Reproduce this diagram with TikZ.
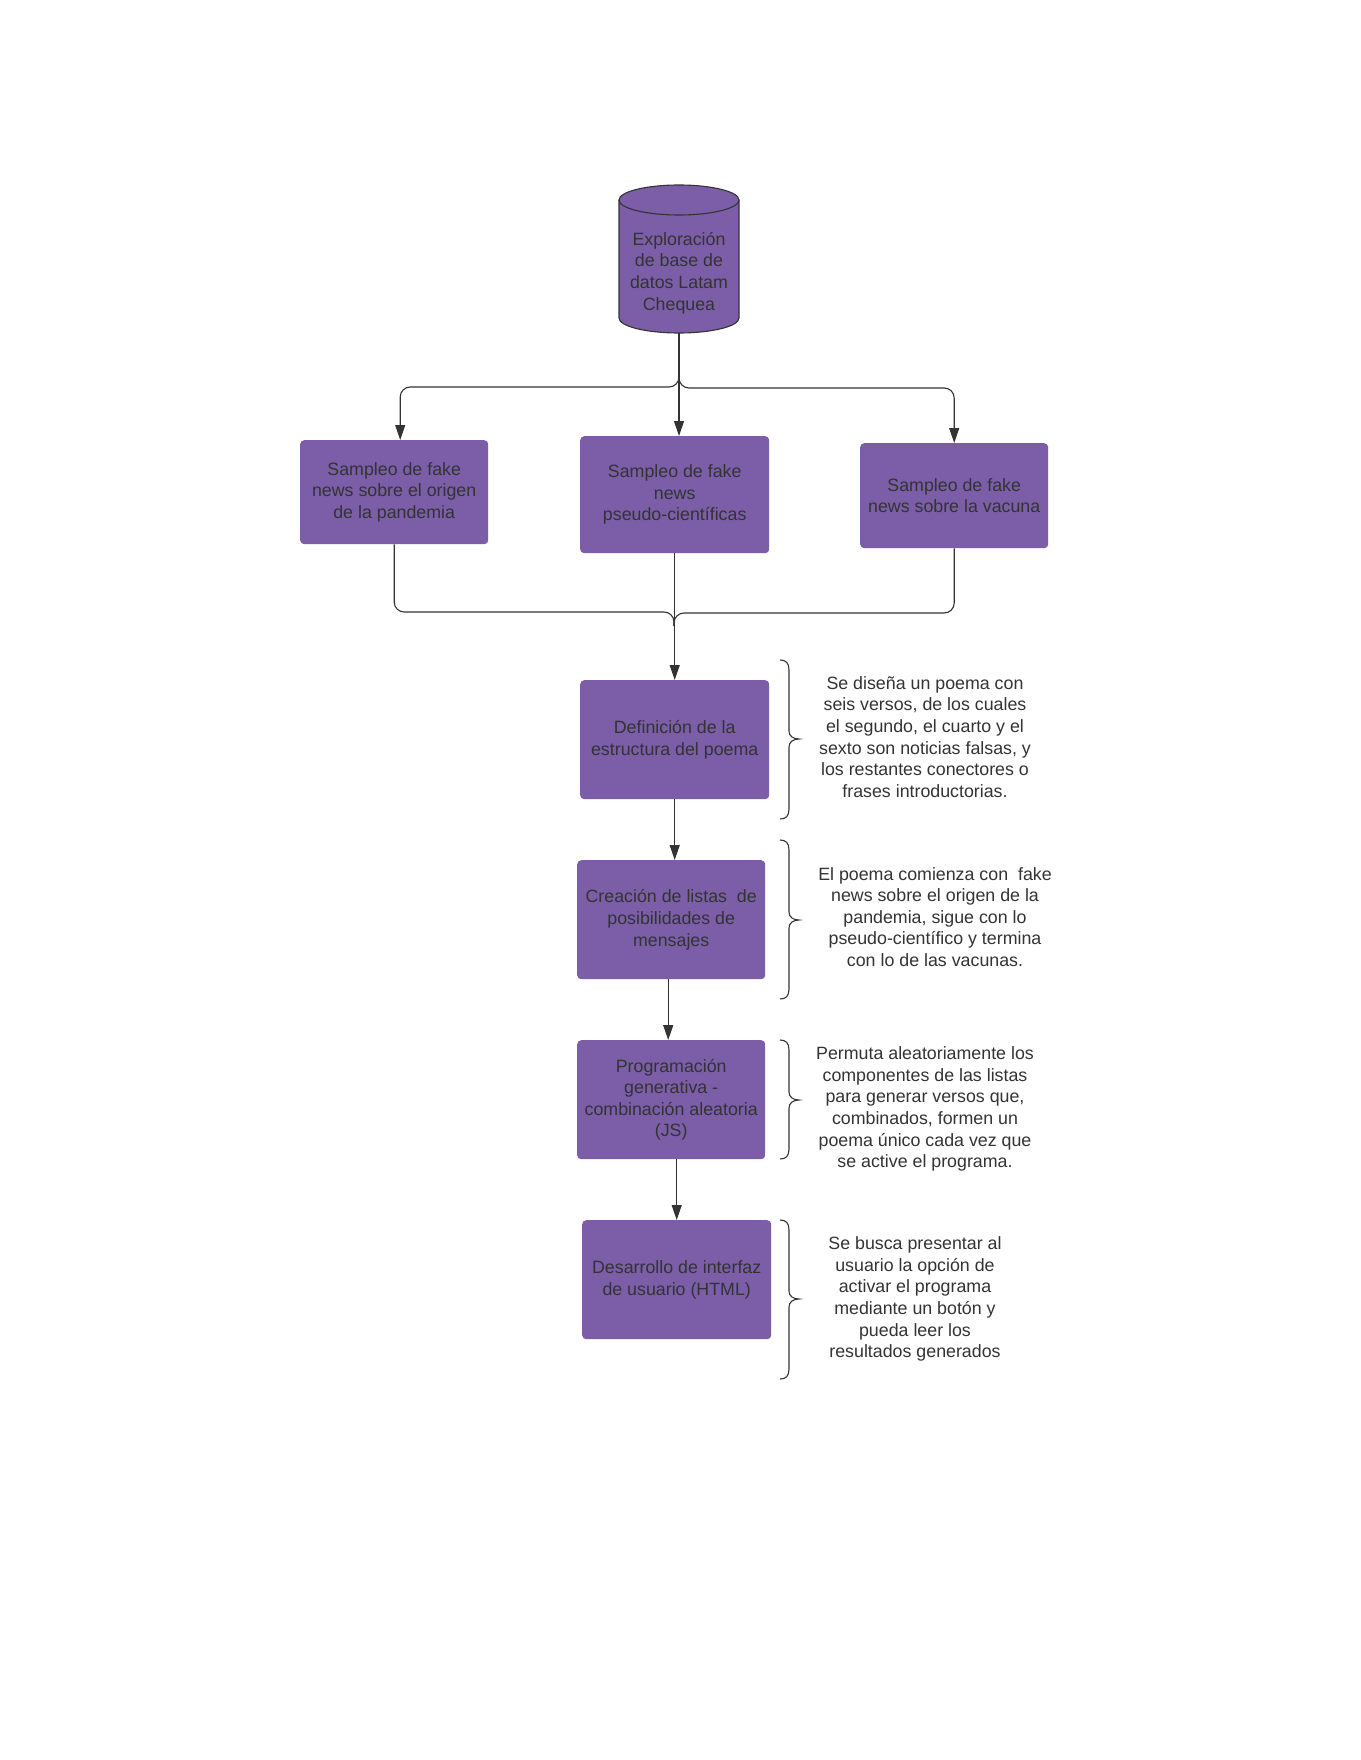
\documentclass[tikz,border=0pt]{standalone}
\usepackage{fontspec}
\setmainfont{Liberation Sans}
\usetikzlibrary{arrows.meta,calc}
\definecolor{boxfill}{HTML}{7B5EA7}
\definecolor{ink}{HTML}{333333}
\tikzset{
  box/.style={fill=boxfill, rounded corners=4pt, anchor=north west, inner sep=0pt,
    align=center, text=ink, font=\fontsize{17.8}{21.6}\selectfont},
  txt/.style={align=center, text=ink, inner sep=0pt, font=\fontsize{17.8}{21.6}\selectfont},
  conn/.style={draw=ink, line width=1.1pt},
  arr/.style={conn, -{Triangle[length=15pt,width=10pt]}},
  rc/.style={rounded corners=10pt},
  bracestyle/.style={draw=ink, line width=1.1pt}
}
\begin{document}
\begin{tikzpicture}[x=1pt,y=-1pt]
\useasboundingbox (0,0) rectangle (1360,1760);
% cylinder
\fill[boxfill] (619,200) -- (619,318) arc[start angle=180,end angle=0,x radius=60,y radius=15] -- (739,200) -- cycle;
\draw[conn] (619,200) -- (619,318) arc[start angle=180,end angle=0,x radius=60,y radius=15] -- (739,200);
\draw[conn, fill=boxfill] (679,200) ellipse [x radius=60, y radius=15];
\node[txt] (cyl) at (679,273) {Exploración\\de base de\\datos Latam\\Chequea};
\coordinate (cylb) at (679,333);
\coordinate (split) at (679,387);
\coordinate (splitup) at (679,375);
% boxes
\node[box, minimum width=188pt, minimum height=104pt] (b1) at (300,440) {Sampleo de fake\\news sobre el origen\\de la pandemia};
\node[box, minimum width=189pt, minimum height=117pt] (b2) at (580,436) {Sampleo de fake\\news\\pseudo-científicas};
\node[box, minimum width=188pt, minimum height=105pt] (b3) at (860,443) {Sampleo de fake\\news sobre la vacuna};
\node[box, minimum width=189pt, minimum height=119pt] (b4) at (580,680) {Definición de la\\estructura del poema};
\node[box, minimum width=188pt, minimum height=119pt] (b5) at (577,860) {Creación de listas\ \ de\\posibilidades de\\mensajes};
\node[box, minimum width=188pt, minimum height=119pt] (b6) at (577,1040) {Programación\\generativa -\\combinación aleatoria\\(JS)};
\node[box, minimum width=189pt, minimum height=119pt] (b7) at (582,1220) {Desarrollo de interfaz\\de usuario (HTML)};
% split connectors
\draw[arr] (cylb) -- (split) -- (split |- b2.north);
\draw[arr, rc] (splitup) -- (split) -| ([xshift=6pt]b1.north);
\draw[arr, rc] (splitup) -- ([yshift=-1pt]split) -| (b3.north);
% merge connectors
\coordinate (merge) at (674,612);
\draw[conn, rc] (b1.south) |- (merge) -- ([yshift=-14pt]merge);
\draw[conn, rc] (b3.south) |- ([yshift=-1pt]merge) -- ([yshift=-14pt]merge);
\draw[arr] (b2.south) -- (b4.north);
% chain
\draw[arr] (b4.south) -- (b4.south |- b5.north);
\draw[arr] ([xshift=-3pt]b6.north |- b5.south) -- ([xshift=-3pt]b6.north);
\draw[arr] (b7.north |- b6.south) -- (b7.north);
% braces
\foreach \ya/\ym/\yb in {660/739/819, 840/920/999, 1040/1100/1159, 1220/1299/1379}{
  \draw[bracestyle] (780,\ya) .. controls (786,\ya) and (789,\ya+3) .. (789,\ya+10)
    -- (789,\ym-8) .. controls (789,\ym-3) and (793,\ym) .. (799,\ym)
    .. controls (793,\ym) and (789,\ym+3) .. (789,\ym+8)
    -- (789,\yb-10) .. controls (789,\yb-3) and (786,\yb) .. (780,\yb);
}
% descriptions
\node[txt] (t1) at (925,737) {Se diseña un poema con\\seis versos, de los cuales\\el segundo, el cuarto y el\\sexto son noticias falsas, y\\los restantes conectores o\\frases introductorias.};
\node[txt] (t2) at (935,917) {El poema comienza con\ \ fake\\news sobre el origen de la\\pandemia, sigue con lo\\pseudo-científico y termina\\con lo de las vacunas.};
\node[txt] (t3) at (925,1109) {Permuta aleatoriamente los\\componentes de las listas\\para generar versos que,\\combinados, formen un\\poema único cada vez que\\se active el programa.};
\node[txt] (t4) at (915,1299) {Se busca presentar al\\usuario la opción de\\activar el programa\\mediante un botón y\\pueda leer los\\resultados generados};
\end{tikzpicture}
\end{document}
